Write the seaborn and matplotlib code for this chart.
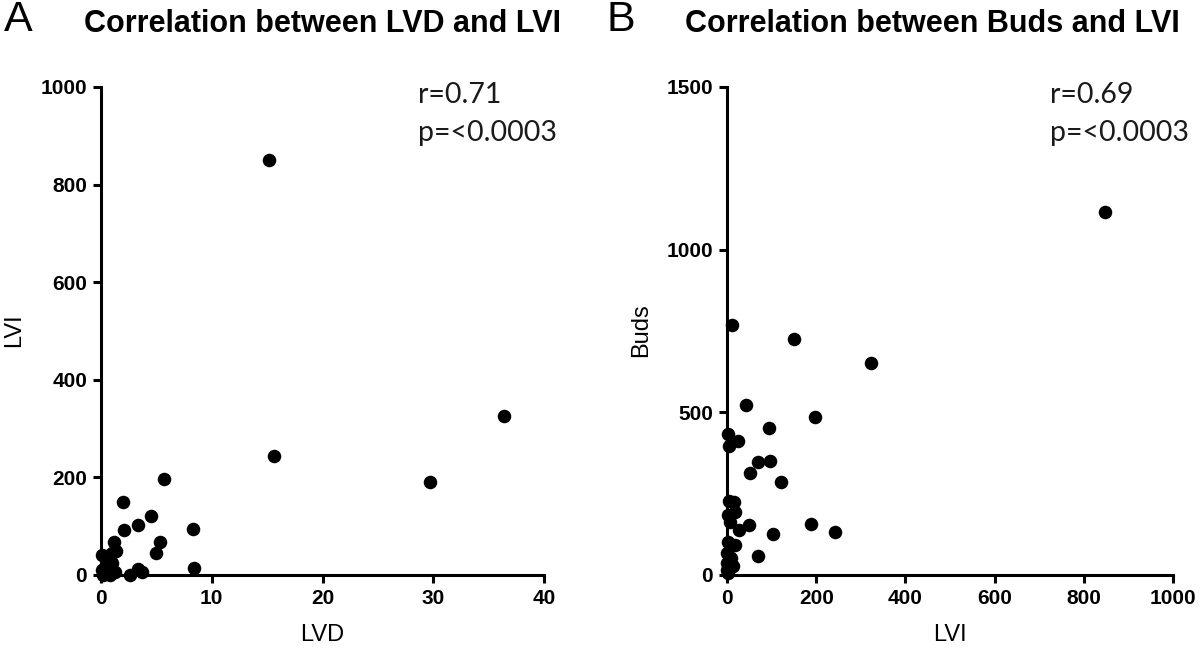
import matplotlib.pyplot as plt
import pandas as pd
import seaborn as sns

# panel A: LVD vs LVI
lvd_a = [15.2, 15.6, 36.4, 29.7, 5.7, 1.96, 4.48, 2.08, 3.37, 8.28, 5.3, 4.97,
         1.15, 1.33, 8.43, 3.3, 3.67, 2.6, 0.1, 0.5, 1.0, 0.55, 0.4, 1.0,
         0.1, 1.3, 0.7, 0.2, 0.8]
lvi_a = [850, 244, 326, 190, 197, 149, 121, 92, 102, 94, 68, 46,
         68, 49, 14, 12, 6, 0, 40, 38, 45, 31, 17, 24,
         10, 7, 3, 0, 0]

# panel B: LVI vs Buds
lvi_b = [848, 12, 150, 323, 43, 197, 94, 1.5, 24, 4.5, 70, 96, 52, 122,
         4.5, 15.7, 18, 3, 6.7, 50, 27.6, 189, 243, 103, 70, 1.5, 18, 0,
         10, 0, 14, 0, 3]
buds_b = [1115, 769, 724, 651, 522, 485, 452, 432, 413, 395, 346, 350, 313, 285,
          227, 225, 195, 184, 164, 154, 138, 158, 132, 125, 59, 102, 92, 67,
          51, 36, 29, 15, 5]

stats_a = ["r=0.71", "p=<0.0003"]
stats_b = ["r=0.69", "p=<0.0003"]

df_a = pd.DataFrame({"LVD": lvd_a, "LVI": lvi_a})
df_b = pd.DataFrame({"LVI": lvi_b, "Buds": buds_b})

sns.set_style("ticks", {"text.color": "black", "axes.labelcolor": "black",
                        "xtick.color": "black", "ytick.color": "black",
                        "axes.edgecolor": "black"})
plt.rcParams["font.family"] = ["Liberation Sans", "DejaVu Sans"]

W, H = 1200, 657
fig = plt.figure(figsize=(12, 6.57), dpi=100)


def px_axes(x0, y0, x1, y1):
    return fig.add_axes([x0 / W, 1 - y1 / H, (x1 - x0) / W, (y1 - y0) / H])


ax_a = px_axes(101, 87, 544, 575)
ax_b = px_axes(727, 87, 1173, 575)

panels = [
    (ax_a, df_a, "LVD", "LVI", (0, 40), [0, 10, 20, 30, 40], (0, 1000),
     [0, 200, 400, 600, 800, 1000]),
    (ax_b, df_b, "LVI", "Buds", (0, 1000), [0, 200, 400, 600, 800, 1000],
     (0, 1500), [0, 500, 1000, 1500]),
]

for ax, df, xc, yc, xl, xt, yl, yt in panels:
    sns.scatterplot(data=df, x=xc, y=yc, ax=ax, color="black", s=95,
                    linewidth=0, clip_on=False, zorder=5)
    ax.set_xlim(*xl)
    ax.set_ylim(*yl)
    ax.set_xticks(xt)
    ax.set_yticks(yt)
    sns.despine(ax=ax)
    for sp in ["left", "bottom"]:
        ax.spines[sp].set_linewidth(2.2)
        ax.spines[sp].set_color("black")
    ax.tick_params(width=2.2, length=6, labelsize=15, pad=4, color="black",
                   labelcolor="black")
    for lab in ax.get_xticklabels() + ax.get_yticklabels():
        lab.set_fontweight("bold")
    ax.set_xlabel("")
    ax.set_ylabel("")

# axis labels
fig.text(322 / W, 1 - 635 / H, "LVD", fontsize=17, ha="center", va="center")
fig.text(950 / W, 1 - 635 / H, "LVI", fontsize=17, ha="center", va="center")
fig.text(14 / W, 1 - 330 / H, "LVI", fontsize=17, ha="center", va="center",
         rotation=90)
fig.text(641 / W, 1 - 330 / H, "Buds", fontsize=17, ha="center", va="center",
         rotation=90)

# titles and panel letters
fig.text(322 / W, 1 - 24 / H, "Correlation between LVD and LVI", fontsize=22,
         fontweight="bold", ha="center", va="center")
fig.text(932 / W, 1 - 24 / H, "Correlation between Buds and LVI", fontsize=22,
         fontweight="bold", ha="center", va="center")
fig.text(4 / W, 1 - 20 / H, "A", fontsize=31, ha="left", va="center")
fig.text(607 / W, 1 - 20 / H, "B", fontsize=31, ha="left", va="center")

# statistics
for x0, lines in [(418, stats_a), (1050, stats_b)]:
    for y0, txt in zip([95, 133], lines):
        fig.text(x0 / W, 1 - y0 / H, txt, fontsize=20.5, ha="left", va="center",
                 family=["Lato", "DejaVu Sans"], color="#1a1a1a")

fig.savefig("out.png", dpi=100)
